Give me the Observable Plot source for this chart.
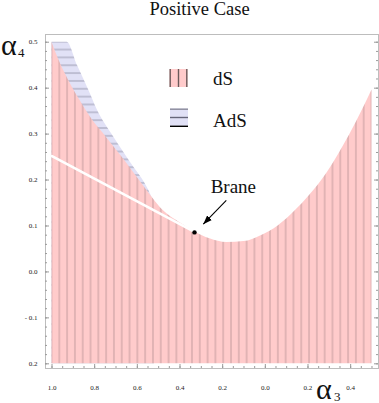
<!DOCTYPE html>
<html><head><meta charset="utf-8">
<script src="https://cdn.jsdelivr.net/npm/d3@7"></script>
<script src="https://cdn.jsdelivr.net/npm/@observablehq/plot@0.6"></script>
<style>
body{margin:0;background:#fff;font-family:"Liberation Serif",serif;}
#wrap{position:relative;width:379px;height:403px;}
#title{height:20px;line-height:19px;font-size:18.5px;text-align:center;padding-left:20px;box-sizing:border-box;width:379px;white-space:nowrap;color:#111;}
#chart svg{display:block;}
.lbl{position:absolute;white-space:nowrap;font-family:"Liberation Serif",serif;color:#111;}
#overlay{position:absolute;left:0;top:0;pointer-events:none;}
</style></head><body>
<div id="wrap">
  <div id="title">Positive Case</div>
  <div id="chart"></div>
  <span class="lbl" style="left:1px;top:34.5px;font-size:30px;line-height:20px;">α</span>
  <span class="lbl" style="left:18px;top:48px;font-size:13px;line-height:10px;">4</span>
  <span class="lbl" style="left:316px;top:378.5px;font-size:30px;line-height:20px;">α</span>
  <span class="lbl" style="left:334px;top:392px;font-size:13px;line-height:10px;">3</span>
  <svg id="overlay" width="379" height="403"></svg>
</div>
<script>
// ---------- data ----------
// dS region upper boundary (alpha3, alpha4)
const dsA3 = [-1.00,-0.96,-0.92,-0.87,-0.82,-0.74,-0.66,-0.58,-0.53,-0.48,-0.40,-0.33,-0.26,-0.18,-0.10,-0.02,0.06,0.14,0.21,0.29,0.36,0.43,0.50];
const dsA4 = [0.500,0.453,0.415,0.374,0.337,0.290,0.243,0.193,0.162,0.134,0.107,0.087,0.072,0.064,0.066,0.079,0.100,0.133,0.168,0.216,0.269,0.329,0.396];
// AdS region upper boundary
const adsA3 = [-1.00,-0.929,-0.88,-0.827,-0.788,-0.71,-0.632,-0.546,-0.52];
const adsA4 = [0.500,0.500,0.449,0.395,0.353,0.293,0.238,0.177,0.150];
const regionBottom = -0.2;
// white line to the brane point
const lineA3 = [-1.00,-0.332];
const lineA4 = [0.252,0.087];
// brane point and annotation
const braneA3 = [-0.332];
const braneA4 = [0.086];
const braneLabel = ["Brane"];
const braneLabelA3 = [-0.150];
const braneLabelA4 = [0.184];
const arrowFromA3 = [-0.183], arrowFromA4 = [0.156];
const arrowToA3 = [-0.291], arrowToA4 = [0.104];
// ticks
const xTicks = [-1.0,-0.8,-0.6,-0.4,-0.2,0.0,0.2,0.4];
const xTickLabels = ["1.0","0.8","0.6","0.4","0.2","0.0","0.2","0.4"];
const yTicks = [0.5,0.4,0.3,0.2,0.1,0.0,-0.1,-0.2];
const yTickLabels = ["0.5","0.4","0.3","0.2","0.1","0.0","- 0.1","0.2"];
const xMinor = d3.range(-20, 11).map(i => i * 0.05);
const yMinor = d3.range(-10, 26).map(i => i * 0.02);
// legend
const legendLabels = ["dS","AdS"];
// mesh (hatch) counts
const meshLines = 40;

// ---------- build ----------
const ds = dsA3.map((a, i) => ({a3: a, a4: dsA4[i]}));
const ads = adsA3.map((a, i) => ({a3: a, a4: adsA4[i]}));
const wline = lineA3.map((a, i) => ({a3: a, a4: lineA4[i]}));
const brane = braneA3.map((a, i) => ({a3: a, a4: braneA4[i], label: braneLabel[i], la3: braneLabelA3[i], la4: braneLabelA4[i], fa3: arrowFromA3[i], fa4: arrowFromA4[i], ta3: arrowToA3[i], ta4: arrowToA4[i]}));
const xLab = new Map(xTicks.map((t, i) => [t, xTickLabels[i]]));
const yLab = new Map(yTicks.map((t, i) => [t, yTickLabels[i]]));

const W = 379, H = 383, mL = 45, mR = 1, mT = 14, mB = 35;
const pw = W - mL - mR, ph = H - mT - mB;
const pinkFill = "#ffcbcb", pinkLine = "#c59d9f";
const blueFill = "#e1e1f6", blueLine = "#9d9db3";
const tickColor = "#9a9a9a";

function filledArrow(color) {
  const ns = "http://www.w3.org/2000/svg";
  const m = document.createElementNS(ns, "marker");
  m.setAttribute("viewBox", "-9 -3.5 9.5 7");
  m.setAttribute("markerWidth", "9.5");
  m.setAttribute("markerHeight", "7");
  m.setAttribute("markerUnits", "userSpaceOnUse");
  m.setAttribute("orient", "auto");
  const p = document.createElementNS(ns, "path");
  p.setAttribute("d", "M-9,-3.3L0,0L-9,3.3Z");
  p.setAttribute("fill", "black");
  p.setAttribute("stroke", "none");
  m.appendChild(p);
  return m;
}

const plot = Plot.plot({
  width: W, height: H,
  marginLeft: mL, marginRight: mR, marginTop: mT, marginBottom: mB,
  x: {domain: [-1.0305, 0.5305]},
  y: {domain: [-0.2102, 0.5168]},
  style: {fontFamily: '"Liberation Serif", serif', fontSize: "7px", color: "#222", background: "white", overflow: "visible"},
  marks: [
    Plot.areaY(ads, {x: "a3", y1: regionBottom, y2: "a4", fill: "url(#adsHatch)", curve: "monotone-x"}),
    Plot.areaY(ds, {x: "a3", y1: regionBottom, y2: "a4", fill: "url(#dsHatch)", curve: "monotone-x"}),
    Plot.line(wline, {x: "a3", y: "a4", stroke: "white", strokeWidth: 2.6}),
    Plot.dot(brane, {x: "a3", y: "a4", r: 2.2, fill: "black"}),
    Plot.link(brane, {x1: "fa3", y1: "fa4", x2: "ta3", y2: "ta4", stroke: "black", strokeWidth: 1.1, markerEnd: filledArrow}),
    Plot.text(brane, {x: "la3", y: "la4", text: "label", fontSize: 19, fill: "#111", textAnchor: "middle", lineAnchor: "middle"}),
    Plot.frame({stroke: "#bdbdbd"}),
    Plot.ruleX(xMinor, {x: d => d, insetTop: ph - 2, stroke: tickColor}),
    Plot.ruleX(xTicks, {x: d => d, insetTop: ph - 4, stroke: tickColor}),
    Plot.ruleY(yMinor, {y: d => d, insetRight: pw - 2, stroke: tickColor}),
    Plot.ruleY(yTicks, {y: d => d, insetRight: pw - 4, stroke: tickColor}),
    Plot.ruleY(yMinor, {y: d => d, insetLeft: pw - 2, stroke: tickColor}),
    Plot.ruleY(yTicks, {y: d => d, insetLeft: pw - 4, stroke: tickColor}),
    Plot.axisX({ticks: xTicks, tickFormat: d => xLab.get(d), tickSize: 0, tickPadding: 17, label: null, fill: "#222"}),
    Plot.axisY({ticks: yTicks, tickFormat: d => yLab.get(d), tickSize: 0, tickPadding: 8, label: null, fill: "#222"})
  ]
});

// hatch patterns aligned to the mesh positions through the scales
const xs = plot.scale("x"), ys = plot.scale("y");
const x0 = xs.apply(-1), w = xs.apply(-1 + 1.5 / (meshLines + 1)) - x0;
const y0 = ys.apply(-0.2), h = y0 - ys.apply(-0.2 + 0.7 / (meshLines + 1));
const defs = d3.select(plot).insert("defs", ":first-child");
const pd = defs.append("pattern").attr("id", "dsHatch").attr("patternUnits", "userSpaceOnUse")
  .attr("x", x0 - w / 2).attr("y", 0).attr("width", w).attr("height", H);
pd.append("rect").attr("width", w).attr("height", H).attr("fill", pinkFill);
pd.append("rect").attr("x", w / 2 - 0.5).attr("width", 1).attr("height", H).attr("fill", pinkLine);
const pa = defs.append("pattern").attr("id", "adsHatch").attr("patternUnits", "userSpaceOnUse")
  .attr("x", 0).attr("y", y0 - h / 2).attr("width", W).attr("height", h);
pa.append("rect").attr("width", W).attr("height", h).attr("fill", blueFill);
pa.append("rect").attr("y", h / 2 - 0.5).attr("width", W).attr("height", 1).attr("fill", blueLine);

document.getElementById("chart").appendChild(plot);

// legend overlay
const ov = d3.select("#overlay");
const g1 = ov.append("g");
g1.append("rect").attr("x", 169.5).attr("y", 69).attr("width", 18).attr("height", 18).attr("fill", pinkFill);
[170.2, 178.5, 186.8].forEach(x => g1.append("line").attr("x1", x).attr("x2", x).attr("y1", 69).attr("y2", 87).attr("stroke", "#6a5a5a").attr("stroke-width", 1.4));
g1.append("text").attr("x", 213).attr("y", 85).attr("font-size", 19).attr("font-family", '"Liberation Serif", serif').attr("fill", "#111").text(legendLabels[0]);
const g2 = ov.append("g");
g2.append("rect").attr("x", 170).attr("y", 108.5).attr("width", 18).attr("height", 18).attr("fill", blueFill);
[[109.2, "#8a8a9a"], [117.5, "#66667a"], [126.3, "#000"]].forEach(([y, c]) => g2.append("line").attr("x1", 170).attr("x2", 188).attr("y1", y).attr("y2", y).attr("stroke", c).attr("stroke-width", 1.4));
g2.append("text").attr("x", 213).attr("y", 126.7).attr("font-size", 19).attr("font-family", '"Liberation Serif", serif').attr("fill", "#111").text(legendLabels[1]);
</script>
</body></html>
